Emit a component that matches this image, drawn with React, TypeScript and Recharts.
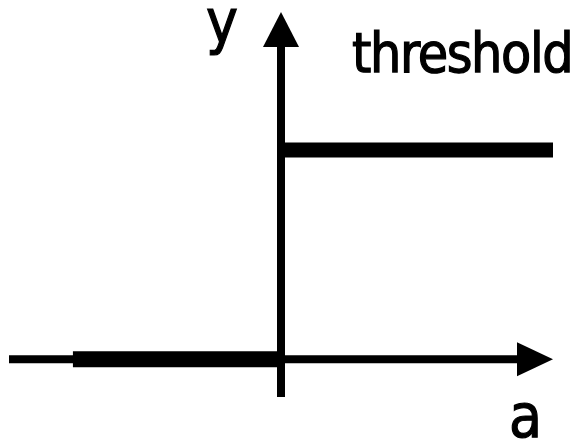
import { LineChart, Line, XAxis, YAxis, ReferenceLine, ReferenceDot } from "recharts";

// threshold (step) function: y = 0 for a < 0, y = 1 for a >= 0
const lowStep = [
  { a: -0.765, v: 0 },
  { a: 0, v: 0 },
];
const highStep = [
  { a: 0, v: 1 },
  { a: 1, v: 1 },
];

const xDomain: [number, number] = [-1, 1];
const yDomain: [number, number] = [-0.18, 1.66];
const xArrowBase = 0.868;
const yArrowBase = 1.496;

const font = "'DejaVu Sans Condensed', 'DejaVu Sans', sans-serif";

const UpArrow = (p: any) => (
  <polygon points={`${p.cx},${p.cy} ${p.cx - 18},${p.cy + 35} ${p.cx + 18},${p.cy + 35}`} fill="#000" />
);
const RightArrow = (p: any) => (
  <polygon points={`${p.cx},${p.cy} ${p.cx - 36},${p.cy - 17} ${p.cx - 36},${p.cy + 17}`} fill="#000" />
);

const label = (left: number, top: number, size: number, lh: number, spacing = 0): React.CSSProperties => ({
  position: "absolute",
  left,
  top,
  fontFamily: font,
  fontSize: size,
  lineHeight: `${lh}px`,
  letterSpacing: spacing,
  color: "#000",
  WebkitTextStroke: "1.2px #000",
  whiteSpace: "nowrap",
});

export default function App() {
  return (
    <div style={{ position: "absolute", left: 0, top: 0, width: 574, height: 444, background: "#fff" }}>
      <LineChart width={574} height={444} margin={{ top: 12, right: 21, bottom: 47, left: 9 }}>
        <XAxis type="number" dataKey="a" domain={xDomain} hide allowDataOverflow />
        <YAxis type="number" dataKey="v" domain={yDomain} hide allowDataOverflow />
        <ReferenceLine
          segment={[{ x: xDomain[0], y: 0 }, { x: xArrowBase, y: 0 }]}
          stroke="#000"
          strokeWidth={8}
          ifOverflow="visible"
        />
        <ReferenceLine
          segment={[{ x: 0, y: yDomain[0] }, { x: 0, y: yArrowBase }]}
          stroke="#000"
          strokeWidth={8}
          ifOverflow="visible"
        />
        <Line data={lowStep} dataKey="v" stroke="#000" strokeWidth={16} dot={false} isAnimationActive={false} />
        <Line data={highStep} dataKey="v" stroke="#000" strokeWidth={15} dot={false} isAnimationActive={false} />
        <ReferenceDot x={0} y={yDomain[1]} shape={UpArrow} ifOverflow="visible" />
        <ReferenceDot x={xDomain[1]} y={0} shape={RightArrow} ifOverflow="visible" />
      </LineChart>
      <div style={label(206, 1, 60, 40)}>y</div>
      <div style={label(352, 31, 55, 44, -1.4)}>threshold</div>
      <div style={label(509, 396, 60, 40)}>a</div>
    </div>
  );
}
